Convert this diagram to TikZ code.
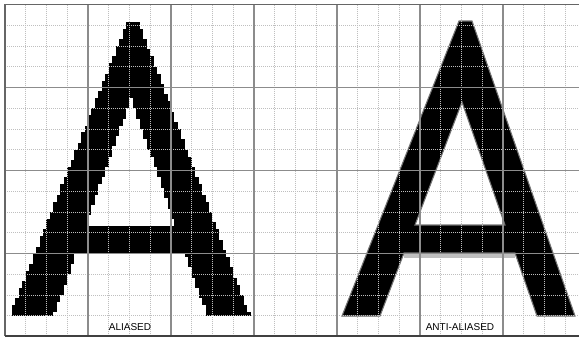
\documentclass[tikz,border=0pt]{standalone}
\usepackage{fontspec}
\newfontfamily\capfont{Liberation Sans}
\newcommand{\pxw}{3.458}

\begin{document}
\begin{tikzpicture}[x=0.75pt,y=-0.75pt,
  finerule/.style={black!25,line width=0.75pt,dash pattern=on 0.75pt off 0.75pt},
  coarserule/.style={black!45,line width=0.9pt},
  framerule/.style={black!60,line width=1.2pt},
  caption/.style={font=\capfont\fontsize{7.5}{9}\selectfont,inner sep=0pt}]
  \useasboundingbox (0,0) rectangle (579,336);
  % aliased A, one row of pixels at a time
  \foreach \j in {5,...,89}{
    \pgfmathsetmacro{\yt}{4.5+\j*\pxw}
    \pgfmathsetmacro{\yc}{\yt+0.5*\pxw}
    \pgfmathsetmacro{\xa}{5+\pxw*round((123-0.399*(\yc-20))/\pxw)}
    \pgfmathsetmacro{\xb}{5+\pxw*round((133+0.378*(\yc-20))/\pxw)}
    \fill (\xa,\yt) rectangle (\xb,{\yt+\pxw+0.3});
  }
  \foreach \j in {27,...,89}{
    \pgfmathsetmacro{\yt}{4.5+\j*\pxw}
    \pgfmathsetmacro{\yc}{\yt+0.5*\pxw}
    \pgfmathsetmacro{\xc}{5+\pxw*round((126-0.353*(\yc-98))/\pxw)}
    \pgfmathsetmacro{\xd}{5+\pxw*round((126+0.349*(\yc-98))/\pxw)}
    \fill[white] (\xc,\yt) rectangle (\xd,{\yt+\pxw+0.3});
  }
  \fill (70,{4.5+64*\pxw}) rectangle (195,{4.5+72*\pxw});
  % anti-aliased A
  \fill[black!25] (404,253) rectangle (515,257.5);
  \draw[black!55,line width=0.8pt,fill=black,even odd rule]
    (342,316) -- (459,21) -- (472,21) -- (575,316) -- (537,316) -- (515,253)
    -- (404,253) -- (380,316) -- cycle
    (462,102) -- (505,225) -- (415,225) -- cycle;
  % grid
  \foreach \i in {1,...,27}
    \draw[finerule] ({5+20.75*\i},4.5) -- ({5+20.75*\i},336);
  \foreach \i in {1,...,15}
    \draw[finerule] (5,{4.5+20.75*\i}) -- (579,{4.5+20.75*\i});
  \foreach \x in {88,171,...,503}
    \draw[coarserule] (\x,4.5) -- (\x,336);
  \foreach \y in {87.5,170.5,253.5}
    \draw[coarserule] (5,\y) -- (579,\y);
  \draw[framerule] (5,336) -- (5,4.5) -- (579,4.5);
  \draw[black!75,line width=1.5pt] (5,335.5) -- (579,335.5);
  \node[caption] (aliased) at (130,327) {ALIASED};
  \node[caption] (antialiased) at (460,327) {ANTI-ALIASED};
\end{tikzpicture}
\end{document}
